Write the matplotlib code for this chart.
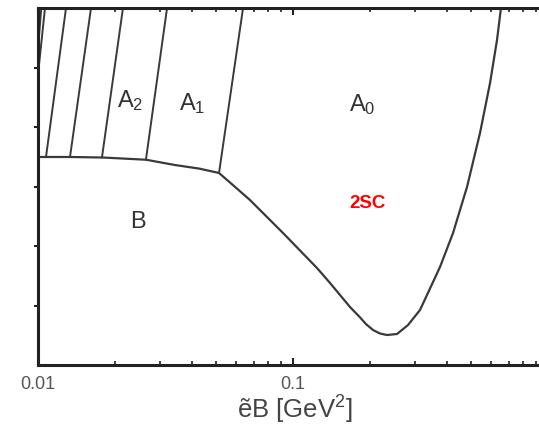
import numpy as np
import matplotlib
matplotlib.use("Agg")
from matplotlib import pyplot as plt
from matplotlib.ticker import LogLocator, FixedLocator, NullFormatter, FixedFormatter

# phase boundary: B below, A_n above, then the 2SC pocket
boundary_x = [0.01, 0.01335, 0.01798, 0.02651, 0.03445, 0.04300, 0.05127,
              0.0590, 0.0678, 0.0914, 0.1242, 0.1397, 0.1673, 0.1832, 0.1932,
              0.2059, 0.2194, 0.2336, 0.2558, 0.2825, 0.3148, 0.3771, 0.4242,
              0.4813, 0.5412, 0.5925, 0.631, 0.654]
boundary_y = [3.496, 3.496, 3.487, 3.450, 3.361, 3.300, 3.227,
              3.000, 2.773, 2.218, 1.630, 1.378, 0.975, 0.800, 0.689,
              0.588, 0.529, 0.504, 0.521, 0.672, 0.924, 1.647, 2.218,
              2.992, 3.899, 4.739, 5.462, 6.0]

# lines separating the A_n phases (bottom x, top x, bottom y)
sep_bottom_x = [0.05127, 0.02651, 0.01782, 0.01335, 0.01075, 0.01009, 0.01003]
sep_top_x = [0.0637, 0.03207, 0.02154, 0.01614, 0.01288, 0.01065, 0.01030]
sep_bottom_y = [3.227, 3.455, 3.490, 3.496, 3.496, 5.04, 5.38]
top_y = 6.0

labels = ["A$_2$", "A$_1$", "A$_0$", "B"]
label_x = [0.02295, 0.0402, 0.1865, 0.02467]
label_y = [4.45, 4.40, 4.37, 2.40]

plt.rcParams['font.family'] = ['Liberation Sans', 'DejaVu Sans']
plt.rcParams['mathtext.fontset'] = 'custom'
plt.rcParams['mathtext.rm'] = 'Liberation Sans'
plt.rcParams['mathtext.it'] = 'Liberation Sans'

fig = plt.figure(figsize=(5.39, 4.29), dpi=100)
ax = fig.add_axes([38 / 539, 64 / 429, 501 / 539, 357 / 429])

line_col = '#3a3a3a'
ax.plot(boundary_x, boundary_y, color=line_col, lw=1.6, solid_joinstyle='round')
for bx, tx, by in zip(sep_bottom_x, sep_top_x, sep_bottom_y):
    ax.plot([bx, tx], [by, top_y], color=line_col, lw=1.4)

for t, x, y in zip(labels, label_x, label_y):
    ax.text(x, y, t, fontsize=17, color='#333333', ha='center', va='center')
ax.text(0.1968, 2.72, "2SC", fontsize=13.5, color='red', fontweight='bold',
        ha='center', va='center')

ax.set_xscale('log')
ax.set_xlim(0.01, 10 ** (-2 + 501 / 255))
ax.set_ylim(0, 6)

ax.xaxis.set_major_locator(FixedLocator([0.01, 0.1]))
ax.xaxis.set_major_formatter(FixedFormatter(["0.01", "0.1"]))
ax.xaxis.set_minor_locator(LogLocator(base=10, subs=np.arange(2, 10)))
ax.xaxis.set_minor_formatter(NullFormatter())
ax.yaxis.set_major_locator(FixedLocator([1, 2, 3, 4, 5]))
ax.yaxis.set_major_formatter(NullFormatter())

ax.tick_params(axis='x', which='both', direction='in', top=True, bottom=True,
               labelsize=13, labelcolor='#555555', pad=8, color='#222222')
ax.tick_params(axis='x', which='major', length=5, width=1.5)
ax.tick_params(axis='x', which='minor', length=3, width=1.2)
ax.tick_params(axis='y', which='both', direction='out', left=True, right=False,
               length=3, width=1.5, color='#222222')

for side in ['left', 'bottom', 'top']:
    ax.spines[side].set_linewidth(2.2)
    ax.spines[side].set_color('#222222')
ax.spines['right'].set_visible(False)

fig.text(295 / 539, 1 - 410 / 429, "ẽB [GeV$^2$]", fontsize=18.5,
         color='#444444', ha='center', va='center')

fig.savefig("out.png", dpi=100)
